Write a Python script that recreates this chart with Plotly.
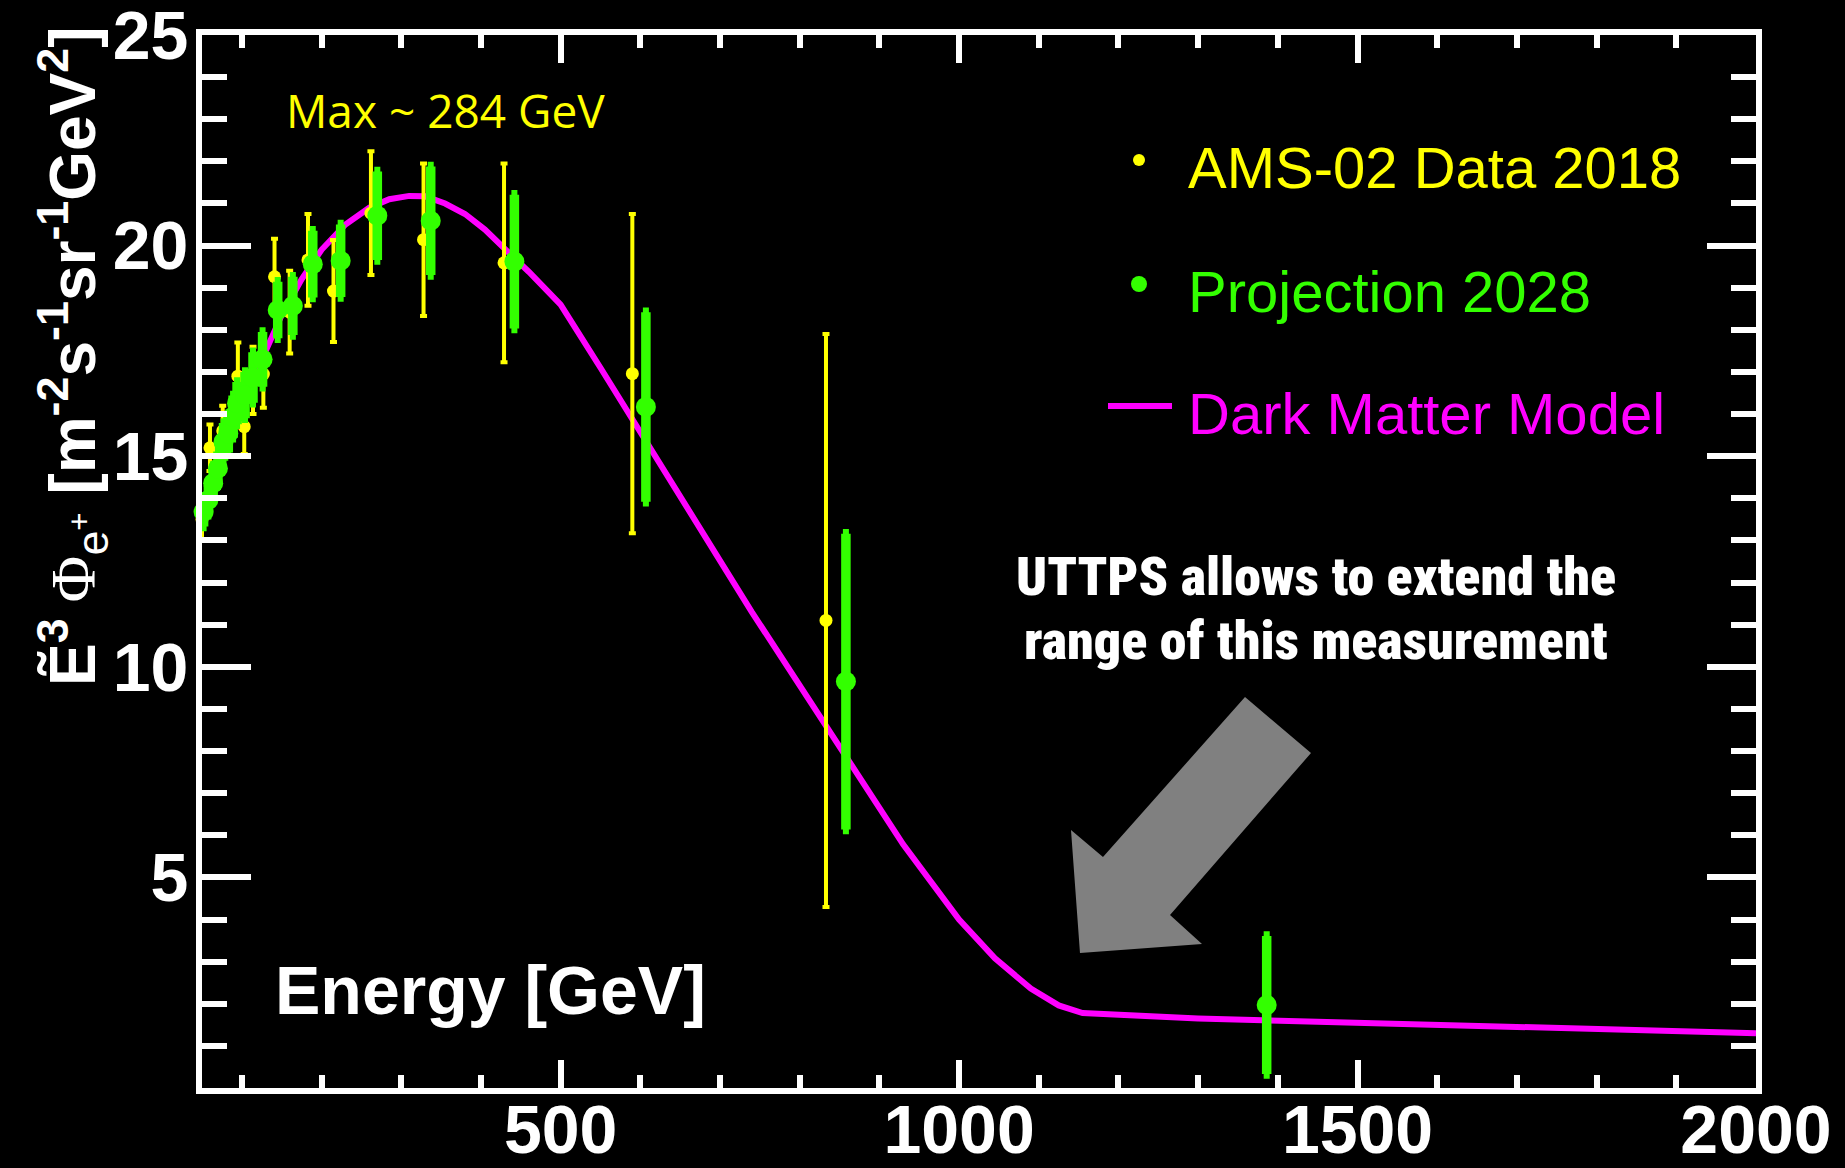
import plotly.graph_objects as go

# AMS-02 positron flux (E^3-weighted), 2018 data set
ams_energy = [50, 60, 76, 95, 103, 114, 127, 141, 160, 183, 215, 262, 328, 429, 590, 833]
ams_flux = [13.5, 15.2, 15.6, 16.9, 15.7, 16.8, 16.95, 19.26, 18.42, 19.66, 18.92, 20.77, 20.14, 19.59, 16.96, 11.10]
ams_err = [0.5, 0.55, 0.6, 0.8, 0.65, 0.8, 0.8, 0.9, 0.98, 1.09, 1.21, 1.47, 1.81, 2.36, 3.79, 6.80]

# Projected precision for 2028
proj_energy = [52, 58, 64, 70, 77, 83, 89, 94, 104, 114, 126, 145, 164, 189, 224, 270, 337, 442, 607, 858, 1386]
proj_flux = [13.68, 13.96, 14.36, 14.71, 15.34, 15.54, 15.94, 16.26, 16.45, 16.87, 17.30, 18.47, 18.57, 19.56, 19.64,
             20.71, 20.59, 19.62, 16.17, 9.65, 1.97]
proj_err = [0.35, 0.35, 0.4, 0.4, 0.45, 0.45, 0.5, 0.5, 0.55, 0.6, 0.65, 0.67, 0.69, 0.79, 0.86, 1.05, 1.29, 1.59,
            2.25, 3.51, 1.64]

# Dark matter model curve
model_energy = [50, 60, 70, 80, 90, 100, 115, 130, 150, 175, 200, 230, 260, 285, 310, 330, 355, 380, 405, 430,
                460, 500, 550, 740, 930, 1000, 1045, 1090, 1125, 1155, 1225, 1300, 2000]
model_flux = [13.6, 14.2, 14.75, 15.25, 15.72, 16.15, 16.85, 17.5, 18.35, 19.2, 19.9, 20.5, 20.9, 21.1, 21.18,
              21.17, 21.0, 20.75, 20.38, 19.92, 19.38, 18.6, 17.1, 11.3, 5.78, 4.0, 3.08, 2.36, 1.96, 1.78, 1.71,
              1.65, 1.30]

x_ticks = [500, 1000, 1500, 2000]
y_ticks = [5, 10, 15, 20, 25]

YELLOW = "#ffff00"
GREEN = "#33ff00"
MAGENTA = "#ff00ff"
WHITE = "#ffffff"

W, H = 1845, 1168
L, R, T, B = 202, 1756, 35, 1088

SANS = "Liberation Sans, Arial, Helvetica, sans-serif"
NARROW = ("Noto Sans ExtraCondensed, Noto Sans Condensed, Roboto Condensed, Liberation Sans Narrow, "
          "DejaVu Sans Condensed, sans-serif")


def fx(p):
    return (p - L) / (R - L)


def fy(p):
    return (B - p) / (B - T)


fig = go.Figure()

fig.add_trace(go.Scatter(
    x=model_energy, y=model_flux, mode="lines",
    line=dict(color=MAGENTA, width=6), showlegend=False, name="Dark Matter Model"))

fig.add_trace(go.Scatter(
    x=ams_energy, y=ams_flux, mode="markers", cliponaxis=False,
    marker=dict(color=YELLOW, size=13, line=dict(width=0)),
    error_y=dict(type="data", array=ams_err, visible=True, color=YELLOW, thickness=4, width=3.5),
    showlegend=False, name="AMS-02 Data 2018"))

fig.add_trace(go.Scatter(
    x=proj_energy, y=proj_flux, mode="markers", cliponaxis=False,
    marker=dict(color=GREEN, size=20, line=dict(width=0)),
    error_y=dict(type="data", array=proj_err, visible=True, color=GREEN, thickness=9.5, width=3),
    showlegend=False, name="Projection 2028"))

axis_common = dict(
    showline=True, linecolor=WHITE, linewidth=6, mirror="allticks",
    ticks="inside", tickcolor=WHITE, tickwidth=6,
    showgrid=False, zeroline=False, automargin=False,
    ticklabeloverflow="allow",
    tickfont=dict(family=SANS, size=68, color=WHITE, weight="bold"),
)

fig.update_xaxes(
    range=[50, 2000], tickvals=x_ticks, ticklen=28,
    minor=dict(ticks="inside", tickmode="linear", tick0=0, dtick=100, ticklen=13,
               tickwidth=6, tickcolor=WHITE),
    ticklabelstandoff=-23,
    **axis_common)

fig.update_yaxes(
    range=[0, 25], tickvals=y_ticks, ticklen=49,
    minor=dict(ticks="inside", tickmode="linear", tick0=0, dtick=1, ticklen=25,
               tickwidth=6, tickcolor=WHITE),
    ticklabelstandoff=-6,
    **axis_common)

annotations = [
    dict(text="<b>Ẽ<sup>3</sup></b><span style=\"font-family:'Liberation Serif',serif\"> Φ</span>"
              "<sub>e<sup>+</sup></sub> <b>[m<sup>-2</sup>s<sup>-1</sup>sr<sup>-1</sup>GeV<sup>2</sup>]</b>",
         x=fx(72), y=fy(356), textangle=-90, font=dict(family=SANS, size=64, color=WHITE)),
    dict(text="<b>Energy [GeV]</b>", x=fx(273), y=fy(990), xanchor="left",
         font=dict(family=SANS, size=68, color=WHITE)),
    dict(text="Max ~ 284 GeV", x=fx(445), y=fy(110),
         font=dict(family="Open Sans, Noto Sans, sans-serif", size=46, color=YELLOW)),
    dict(text="<span style=\"font-stretch:extra-condensed\">UTTPS allows to extend the</span>",
         x=fx(1316), y=fy(576), font=dict(family=NARROW, size=54, color=WHITE, weight=900)),
    dict(text="<span style=\"font-stretch:extra-condensed\">range of this measurement</span>",
         x=fx(1316), y=fy(640), font=dict(family=NARROW, size=54, color=WHITE, weight=900)),
    dict(text="AMS-02 Data 2018", x=fx(1186), y=fy(168), xanchor="left",
         font=dict(family=SANS, size=58, color=YELLOW)),
    dict(text="Projection 2028", x=fx(1186), y=fy(291), xanchor="left",
         font=dict(family=SANS, size=58, color=GREEN)),
    dict(text="Dark Matter Model", x=fx(1186), y=fy(414), xanchor="left",
         font=dict(family=SANS, size=58, color=MAGENTA)),
]
for a in annotations:
    a.setdefault("xanchor", "center")
    a.setdefault("yanchor", "middle")
    fig.add_annotation(xref="paper", yref="paper", showarrow=False, **a)

# grey arrow pointing at the high-energy tail
arrow_px = [(1245, 697), (1311, 753), (1170, 915), (1202, 944), (1080, 953), (1071, 830), (1103, 857)]
path = "M " + " L ".join(f"{fx(a):.5f},{fy(b):.5f}" for a, b in arrow_px) + " Z"
shapes = [dict(type="path", path=path, xref="paper", yref="paper", fillcolor="#808080",
               line=dict(width=0), layer="above")]

# legend swatches
for cx, cy, size, col in [(1139, 160, 12, YELLOW), (1139, 284, 16, GREEN)]:
    shapes.append(dict(type="circle", xref="paper", yref="paper", xsizemode="pixel", ysizemode="pixel",
                       xanchor=fx(cx), yanchor=fy(cy), x0=-size / 2, x1=size / 2, y0=-size / 2, y1=size / 2,
                       fillcolor=col, line=dict(width=0)))
shapes.append(dict(type="line", xref="paper", yref="paper", x0=fx(1108), x1=fx(1172), y0=fy(406), y1=fy(406),
                   line=dict(color=MAGENTA, width=6)))

fig.update_layout(
    width=W, height=H,
    margin=dict(l=L, r=W - R, t=T, b=H - B, pad=0, autoexpand=False),
    paper_bgcolor="black", plot_bgcolor="black",
    showlegend=False,
    shapes=shapes,
)

fig.write_html("out.html")
